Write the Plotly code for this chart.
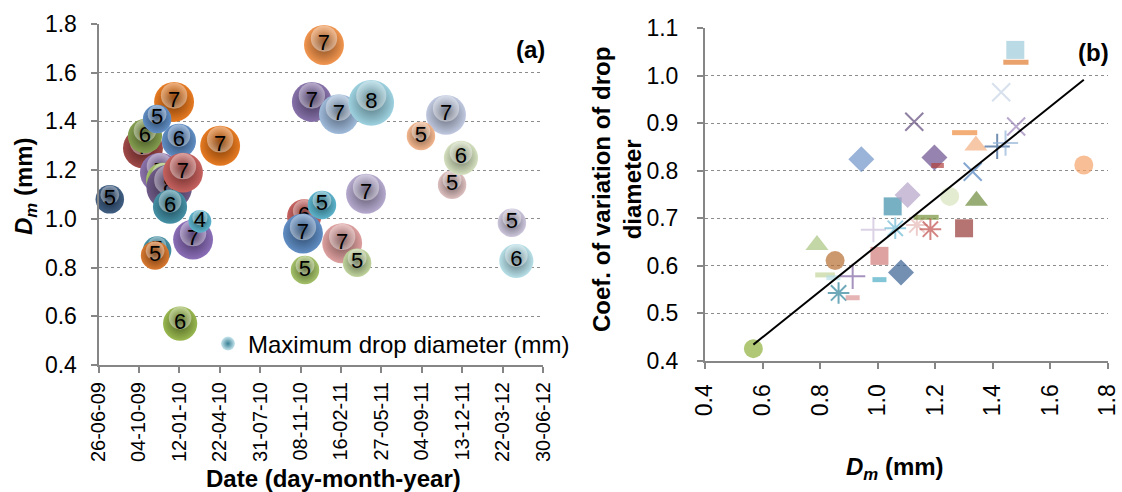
import numpy as np
import plotly.graph_objects as go

FONT = "Arial, Liberation Sans, sans-serif"
W, H = 1122, 492

# ---------------- Panel (a): D_m by event date ----------------
event_dates = [
    "2009-07-24", "2009-10-14", "2009-10-19", "2009-12-30", "2009-11-18",
    "2010-01-11", "2010-04-23", "2009-11-25", "2009-12-03", "2009-12-18",
    "2010-01-21", "2009-12-20", "2010-02-15", "2010-03-04", "2009-11-18",
    "2009-11-13", "2010-01-14",
    "2011-01-05", "2010-12-06", "2011-02-11", "2011-05-02", "2011-11-03",
    "2011-09-02", "2011-11-18", "2011-12-10", "2011-04-19", "2010-11-17",
    "2010-11-14", "2010-12-31", "2011-02-19", "2011-03-28", "2010-11-19",
    "2012-04-14", "2012-04-25",
]
dm_mm = [
    1.08, 1.29, 1.34, 1.48, 1.41,
    1.32, 1.30, 1.19, 1.16, 1.13,
    1.19, 1.05, 0.915, 0.99, 0.87,
    0.85, 0.57,
    1.714, 1.48, 1.43, 1.476, 1.427,
    1.34, 1.14, 1.25, 1.103, 1.01,
    0.94, 1.057, 0.90, 0.82, 0.79,
    0.984, 0.827,
]
max_drop_mm = [
    5, 7, 6, 7, 5,
    6, 7, 7, 6, 8,
    7, 6, 7, 4, 5,
    5, 6,
    7, 7, 7, 8, 7,
    5, 5, 6, 7, 6,
    7, 5, 7, 5, 5,
    5, 6,
]
bubble_colors = [
    "#2C4D75", "#943634", "#77933C", "#E46C0A", "#4F81BD",
    "#4F81BD", "#E46C0A", "#8064A2", "#9BBB59", "#5F497A",
    "#C0504D", "#31859C", "#7F5FB0", "#4BACC6", "#31859C",
    "#D46A1A", "#8EB03C",
    "#F08A3C", "#7A62A0", "#95B3D7", "#93CDDD", "#B9C3DC",
    "#F2AE82", "#D9B8B8", "#CFDDB8", "#ADA0C8", "#C0504D",
    "#4F81BD", "#4BACC6", "#D99694", "#B9CF92", "#9BBB59",
    "#C7C0D8", "#B0DCE6",
]
date_ticks = [
    "2009-06-26", "2009-10-04", "2010-01-12", "2010-04-22", "2010-07-31",
    "2010-11-08", "2011-02-16", "2011-05-27", "2011-09-04", "2011-12-13",
    "2012-03-22", "2012-06-30",
]

# ---------------- Panel (b): CV of drop diameter vs D_m ----------------
b_dm = [
    0.568, 0.789, 0.852, 0.817, 0.846, 0.913, 0.864, 0.913, 1.006, 1.006,
    1.081, 0.985, 1.061, 1.052, 1.104, 1.136, 1.168, 1.183, 1.250, 1.343,
    1.300, 0.943, 1.197, 1.208, 1.127, 1.302, 1.341, 1.330, 1.415, 1.444,
    1.481, 1.429, 1.478, 1.480, 1.716,
]
b_cv = [
    0.426, 0.644, 0.611, 0.581, 0.575, 0.578, 0.543, 0.533, 0.621, 0.571,
    0.586, 0.676, 0.679, 0.725, 0.749, 0.686, 0.702, 0.677, 0.746, 0.737,
    0.679, 0.824, 0.828, 0.811, 0.903, 0.880, 0.853, 0.798, 0.851, 0.858,
    0.893, 0.965, 1.054, 1.028, 0.812,
]
# linear trend of CV on D_m: slope and intercept
trend_slope = 0.485
trend_intercept = 0.159

b_symbols = [
    "circle", "triangle-up", "circle", "line-ew-open", "line-ew-open",
    "cross-thin-open", "asterisk-open", "line-ew-open", "square", "line-ew-open",
    "diamond", "cross-thin-open", "asterisk-open", "square", "diamond",
    "asterisk-open", "line-ew-open", "asterisk-open", "circle", "triangle-up",
    "square", "diamond", "diamond", "line-ew-open", "x-thin-open",
    "line-ew-open", "triangle-up", "x-thin-open", "cross-thin-open", "cross-thin-open",
    "x-thin-open", "x-thin-open", "square", "line-ew-open", "circle",
]
b_colors = [
    "#8EB03C", "#A9C47F", "#B66D31", "#C3D69B", "#B7DEE8",
    "#8064A2", "#31859C", "#D99694", "#D07A78", "#4BACC6",
    "#376092", "#CCC1DA", "#6DBBD4", "#3C8FA8", "#B3A2C7",
    "#E6B9B8", "#77933C", "#C0504D", "#D7E4BD", "#6B8A3A",
    "#953735", "#6F93C8", "#6B4F8E", "#B0413E", "#5F497A",
    "#EE8B3E", "#F4B183", "#4F81BD", "#376092", "#95B3D7",
    "#9A83B8", "#C6D3E6", "#9DCBDA", "#E07A2E", "#F5A26A",
]
b_sizes = [
    19, 20, 19, 14, 10, 18, 18, 10, 18, 10,
    20, 18, 18, 18, 20, 18, 18, 18, 19, 20,
    18, 20, 20, 9, 18, 18, 20, 18, 18, 18,
    18, 18, 18, 18, 19,
]
b_line_widths = {"line-ew-open": 5, "x-thin-open": 2, "cross-thin-open": 2,
                 "asterisk-open": 2}


def shade(hex_color, f):
    """Blend toward white (f > 0) or black (f < 0)."""
    h = hex_color.lstrip("#")
    r, g, b = (int(h[i:i + 2], 16) for i in (0, 2, 4))
    if f >= 0:
        r, g, b = (round(c + (255 - c) * f) for c in (r, g, b))
    else:
        r, g, b = (round(c * (1 + f)) for c in (r, g, b))
    return f"rgb({r},{g},{b})"


def px(x, y):
    return x / W, 1 - y / H


# plot-area geometry of panel (a)
A_X0, A_X1, A_Y0, A_Y1 = 98.5, 543, 24, 365
A_YRANGE = (0.4, 1.8)
PX_PER_UNIT = 5.7                      # bubble diameter in px per mm of max drop
Y_PER_PX = (A_YRANGE[1] - A_YRANGE[0]) / (A_Y1 - A_Y0)

fig = go.Figure()

# bubbles, one trace each so later bubbles overlap earlier ones with their labels;
# every trace carries the sphere plus a soft highlight above its centre
for d, v, s, c in zip(event_dates, dm_mm, max_drop_mm, bubble_colors):
    diam = s * PX_PER_UNIT
    hl_y = v + 0.16 * diam * Y_PER_PX
    fig.add_trace(go.Scatter(
        x=[d, d], y=[v, hl_y], mode="markers+text", text=[str(s), ""],
        textposition="middle center",
        textfont=dict(family=FONT, size=22, color="black"),
        marker=dict(size=[diam, diam * 0.66],
                    color=[shade(c, 0.10), "rgba(255,255,255,0.42)"],
                    gradient=dict(type="radial",
                                  color=[shade(c, -0.45), "rgba(255,255,255,0)"]),
                    line=dict(width=0), opacity=1),
        xaxis="x", yaxis="y", showlegend=False, hoverinfo="skip",
        cliponaxis=False))

# legend entry for the bubble series
fig.add_trace(go.Scatter(
    x=[None], y=[None], mode="markers", name="Maximum drop diameter (mm)",
    marker=dict(size=14, color=shade("#93CDDD", 0.5),
                gradient=dict(type="radial", color=shade("#4BACC6", -0.25)),
                line=dict(width=0)),
    xaxis="x", yaxis="y", showlegend=True))

# panel (b) markers
line_w = [b_line_widths.get(s, 0) for s in b_symbols]
fig.add_trace(go.Scatter(
    x=b_dm, y=b_cv, mode="markers", xaxis="x2", yaxis="y2", showlegend=False,
    marker=dict(symbol=b_symbols, color=b_colors, size=b_sizes,
                line=dict(width=line_w, color=b_colors)),
    cliponaxis=False, hoverinfo="x+y"))

# trend line across the range of panel (b) points
x_fit = np.array([min(b_dm), max(b_dm)])
fig.add_trace(go.Scatter(
    x=x_fit, y=trend_slope * x_fit + trend_intercept, mode="lines",
    xaxis="x2", yaxis="y2", line=dict(color="black", width=2),
    showlegend=False, hoverinfo="skip"))

AX = "#868686"


def y_axis(standoff):
    return dict(showline=True, linecolor=AX, linewidth=2, ticks="outside",
                ticklen=6, tickcolor=AX, tickwidth=2, showgrid=True,
                gridcolor="#8C8C8C", griddash="dot", gridwidth=1,
                zeroline=False, tickformat=".1f", automargin=False,
                ticklabelstandoff=standoff,
                tickfont=dict(family=FONT, size=23, color="black"))


def x_axis(size, standoff):
    return dict(showline=True, linecolor=AX, linewidth=2, ticks="outside",
                ticklen=6, tickcolor=AX, tickwidth=2, showgrid=False,
                zeroline=False, tickangle=-90, automargin=False,
                ticklabelstandoff=standoff,
                tickfont=dict(family=FONT, size=size, color="black"))


fig.update_layout(
    template="none",
    width=W, height=H, margin=dict(l=0, r=0, t=0, b=0, autoexpand=False),
    paper_bgcolor="white", plot_bgcolor="white",
    font=dict(family=FONT, color="black"),
    xaxis=dict(domain=[A_X0 / W, A_X1 / W], type="date",
               range=[date_ticks[0], date_ticks[-1]], tickvals=date_ticks,
               tickformat="%d-%m-%y", anchor="y", **x_axis(20, 1)),
    yaxis=dict(domain=[1 - A_Y1 / H, 1 - A_Y0 / H], range=list(A_YRANGE),
               dtick=0.2, anchor="x", **y_axis(9)),
    xaxis2=dict(domain=[705 / W, 1108 / W], range=[0.4, 1.8], dtick=0.2,
                tickformat=".1f", anchor="y2", **x_axis(23, 6)),
    yaxis2=dict(domain=[1 - 361 / H, 1 - 28 / H], range=[0.4, 1.1], dtick=0.1,
                anchor="x2", **y_axis(14)),
    legend=dict(x=px(208, 0)[0], y=px(0, 344)[1], xanchor="left",
                yanchor="middle", bgcolor="rgba(0,0,0,0)",
                font=dict(family=FONT, size=24, color="black"),
                itemwidth=30),
)

annotations = [
    dict(text="<b><i>D<sub>m</sub></i> (mm)</b>", x=25, y=186, textangle=-90),
    dict(text="<b>Date (day-month-year)</b>", x=333, y=478, textangle=0),
    dict(text="<b>Coef. of variation of drop<br>diameter</b>", x=617, y=190,
         textangle=-90),
    dict(text="<b><i>D<sub>m</sub></i> (mm)</b>", x=895, y=468, textangle=0),
    dict(text="<b>(a)</b>", x=530, y=50, textangle=0),
    dict(text="<b>(b)</b>", x=1093, y=52, textangle=0),
]
for a in annotations:
    ax, ay = px(a["x"], a["y"])
    fig.add_annotation(text=a["text"], x=ax, y=ay, xref="paper", yref="paper",
                       xanchor="center", yanchor="middle", showarrow=False,
                       textangle=a["textangle"],
                       font=dict(family=FONT, size=24, color="black"))

fig.write_html("out.html")
